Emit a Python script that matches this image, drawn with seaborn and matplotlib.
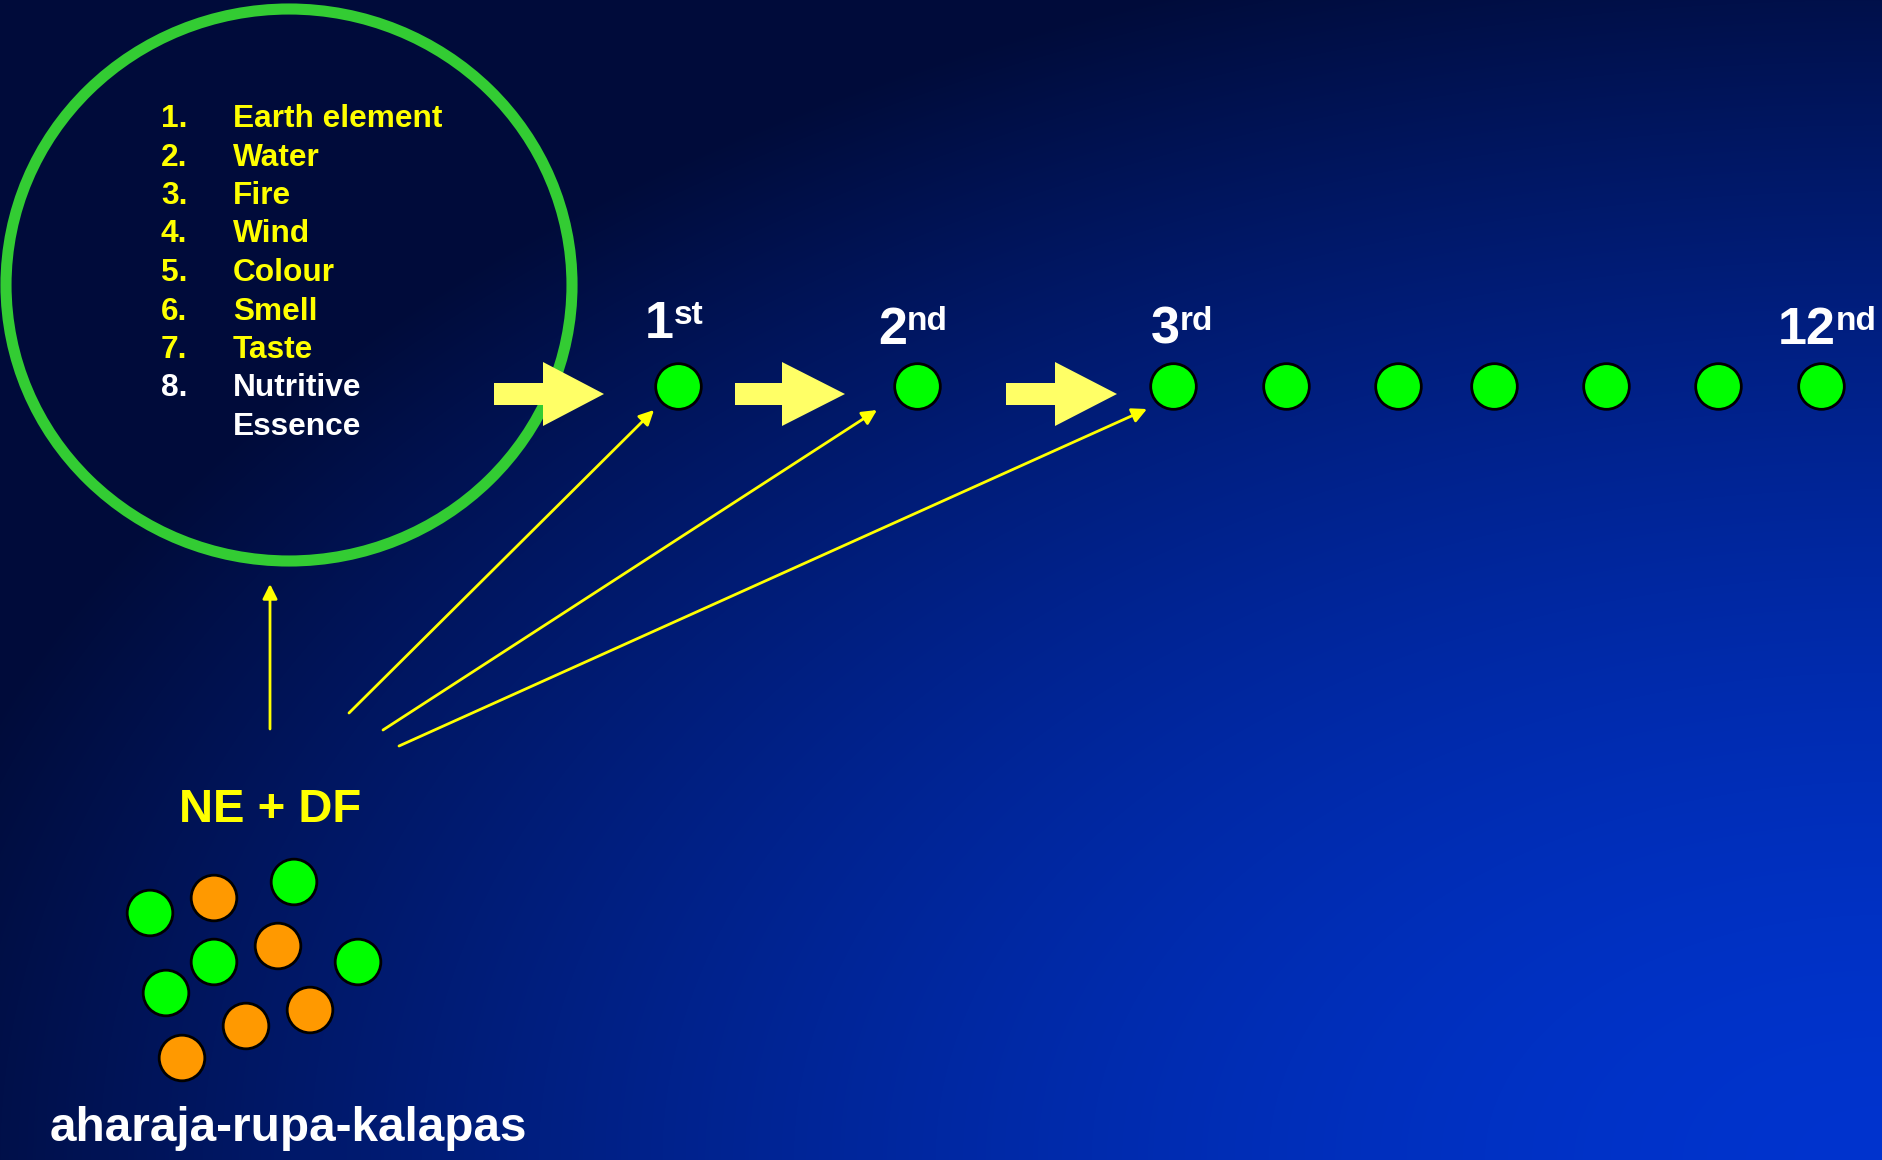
import matplotlib
matplotlib.use("Agg")
import matplotlib.pyplot as plt
import numpy as np
import pandas as pd
import seaborn as sns
from matplotlib.patches import Ellipse, Polygon

W, H = 1883, 1160

# ── data ────────────────────────────────────────────────────────────────────
LIST_NUMS = ["1.", "2.", "3.", "4.", "5.", "6.", "7.", "8.", ""]
LIST_ITEMS = ["Earth element", "Water", "Fire", "Wind", "Colour", "Smell",
              "Taste", "Nutritive", "Essence"]
LIST_COLORS = ["#ffff00"] * 7 + ["#ffffff", "#ffffff"]

# row of generations (pixel positions)
ROW_X = [678, 917, 1173, 1286, 1398, 1494, 1606, 1718, 1821]
ROW_Y = [386] * 9

ORD_NUM = ["1", "2", "3", "12"]
ORD_SUP = ["st", "nd", "rd", "nd"]
ORD_X = [645, 878, 1151, 1778]
ORD_Y = [338, 344, 344, 344]

# big block arrows: shaft start, head base, tip
BLOCK_START = [494, 735, 1006]
BLOCK_BASE = [543, 782, 1055]
BLOCK_TIP = [604, 845, 1117]
BLOCK_Y = 394

# thin arrows from the NE + DF group
THIN_FROM = [(270, 729), (349, 713), (383, 730), (399, 746)]
THIN_TO = [(270, 584), (654, 410), (877, 410), (1147, 409)]

# kalapas cluster
KAL_X = [150, 214, 294, 214, 278, 358, 166, 310, 246, 182]
KAL_Y = [913, 898, 882, 962, 946, 962, 993, 1010, 1026, 1058]
KAL_KIND = ["NE", "DF", "NE", "NE", "DF", "NE", "NE", "DF", "DF", "DF"]

GREEN = "#00ff00"
ORANGE = "#ff9900"


def background() -> np.ndarray:
    # radial glow from the bottom-right corner
    yy, xx = np.mgrid[0:H, 0:W]
    r = np.sqrt(((W - xx) / W) ** 2 + ((H - yy) / H) ** 2)
    t = np.clip(r ** 1.6, 0, 1.12)
    g = np.clip(52 - 36 * t, 11, None)
    b = np.clip(206 - 132 * t, 58, None)
    img = np.zeros((H, W, 3))
    img[..., 1] = g / 255
    img[..., 2] = b / 255
    return img


def main() -> None:
    sns.set_style("white")
    plt.rcParams["font.family"] = ["Liberation Sans", "DejaVu Sans"]

    fig = plt.figure(figsize=(W / 100, H / 100), dpi=100)
    ax = fig.add_axes([0, 0, 1, 1])
    ax.imshow(background(), extent=(0, W, H, 0), aspect="auto", zorder=0)
    ax.set_xlim(0, W)
    ax.set_ylim(H, 0)
    ax.axis("off")

    # ── big green ring with the list ────────────────────────────────────────
    ax.add_patch(Ellipse((289, 285), 566, 552, fill=False, ec="#33cc33",
                         lw=8, zorder=2))
    for i, (num, item, col) in enumerate(zip(LIST_NUMS, LIST_ITEMS, LIST_COLORS)):
        y = 127 + 38.5 * i
        ax.text(161, y, num, color=col, fontsize=22.8, fontweight="bold",
                va="baseline", ha="left", zorder=5)
        ax.text(233, y, item, color=col, fontsize=22.8, fontweight="bold",
                va="baseline", ha="left", zorder=5)

    # ── block arrows ─────────────────────────────────────────────────────────
    for x0, xb, xt in zip(BLOCK_START, BLOCK_BASE, BLOCK_TIP):
        verts = [(x0, BLOCK_Y - 11), (xb, BLOCK_Y - 11), (xb, BLOCK_Y - 32),
                 (xt, BLOCK_Y), (xb, BLOCK_Y + 32), (xb, BLOCK_Y + 11),
                 (x0, BLOCK_Y + 11)]
        ax.add_patch(Polygon(verts, closed=True, fc="#ffff66", ec="none",
                             zorder=4))

    # ── row of kalapa generations ────────────────────────────────────────────
    sns.scatterplot(x=ROW_X, y=ROW_Y, ax=ax, color=GREEN, s=1080,
                    edgecolor="black", linewidth=2.0, zorder=6, legend=False)

    for num, sup, x, y in zip(ORD_NUM, ORD_SUP, ORD_X, ORD_Y):
        t = ax.text(x, y, num, color="white", fontsize=37.5, fontweight="bold",
                    va="baseline", ha="left", zorder=5)
        ax.annotate(sup, xy=(1.0, 1.0), xycoords=t, color="white",
                    fontsize=24, fontweight="bold", va="top", ha="left",
                    zorder=5)

    # ── thin arrows ──────────────────────────────────────────────────────────
    for (x0, y0), (x1, y1) in zip(THIN_FROM, THIN_TO):
        ax.annotate("", xy=(x1, y1), xytext=(x0, y0),
                    arrowprops=dict(arrowstyle="-|>", color="#ffff00", lw=2,
                                    mutation_scale=22, shrinkA=0, shrinkB=0),
                    zorder=7)

    # ── NE + DF cluster ──────────────────────────────────────────────────────
    ax.text(270, 822, "NE + DF", color="#ffff00", fontsize=34,
            fontweight="bold", va="baseline", ha="center", zorder=5)

    kal = pd.DataFrame({"x": KAL_X, "y": KAL_Y, "kind": KAL_KIND})
    sns.scatterplot(data=kal, x="x", y="y", hue="kind", ax=ax,
                    palette={"NE": GREEN, "DF": ORANGE}, s=1080,
                    edgecolor="black", linewidth=2.0, zorder=6, legend=False)

    ax.text(50, 1141, "aharaja-rupa-kalapas", color="white", fontsize=34.4,
            fontweight="bold", va="baseline", ha="left", zorder=5)

    ax.set_xlim(0, W)
    ax.set_ylim(H, 0)
    fig.savefig("out.png", dpi=100)
    plt.close(fig)


if __name__ == "__main__":
    main()
